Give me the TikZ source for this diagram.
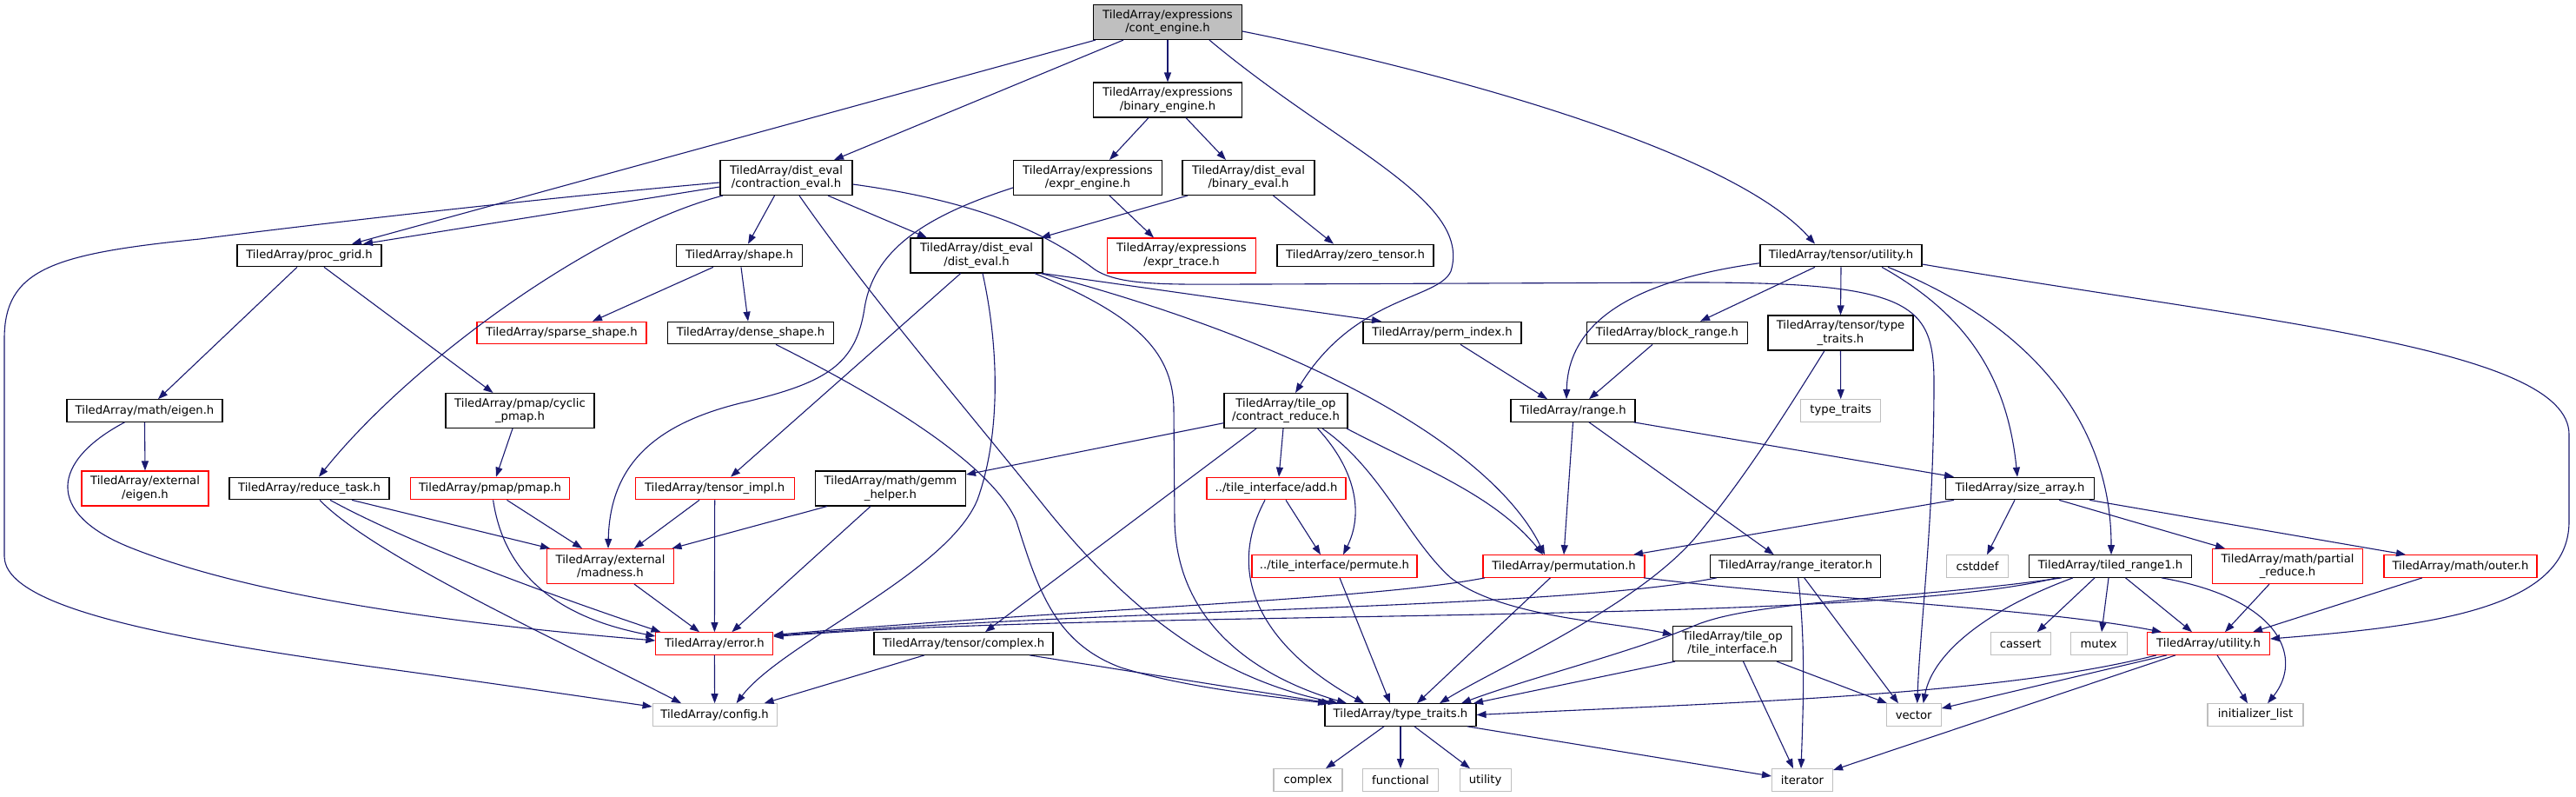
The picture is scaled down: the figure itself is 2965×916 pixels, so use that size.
\documentclass[tikz,border=0pt]{standalone}
\usepackage{fontspec}
\setmainfont{DejaVu Sans}
\usetikzlibrary{arrows.meta}
\definecolor{edgecol}{RGB}{25,25,112}
\definecolor{graybd}{RGB}{191,191,191}
\definecolor{rootfill}{RGB}{191,191,191}
\definecolor{redbd}{RGB}{255,0,0}
\tikzset{
  box/.style={draw=black, fill=white, line width=1.1pt, inner xsep=2pt, inner ysep=0pt,
    align=center, minimum height=25.6pt, font=\fontsize{13.2}{15.5}\selectfont},
  two/.style={minimum height=40pt},
  redbox/.style={draw=redbd},
  graybox/.style={draw=graybd},
  rootbox/.style={fill=rootfill},
  edg/.style={draw=edgecol, line width=1.1pt, -{Triangle[length=11pt,width=8pt]}}
}
\begin{document}
\begin{tikzpicture}[x=1pt,y=-1pt]
\path[use as bounding box, fill=white] (0,0) rectangle (2965,916);

% rank 0-2
\node[box,two,rootbox,minimum width=171pt] (ce) at (1344,25.5) {TiledArray/expressions\\/cont\_engine.h};
\node[box,two,minimum width=171pt] (be) at (1344,115) {TiledArray/expressions\\/binary\_engine.h};
\node[box,two,minimum width=152pt] (ctr) at (905,204.5) {TiledArray/dist\_eval\\/contraction\_eval.h};
\node[box,two,minimum width=171pt] (ee) at (1252,204.5) {TiledArray/expressions\\/expr\_engine.h};
\node[box,two,minimum width=152pt] (bev) at (1437,204.5) {TiledArray/dist\_eval\\/binary\_eval.h};
% rank 3
\node[box,minimum width=166pt] (pg) at (356,294) {TiledArray/proc\_grid.h};
\node[box,minimum width=145pt] (sh) at (851,294) {TiledArray/shape.h};
\node[box,two,minimum width=152pt] (de) at (1124,294) {TiledArray/dist\_eval\\/dist\_eval.h};
\node[box,two,redbox,minimum width=171pt] (et) at (1360,294) {TiledArray/expressions\\/expr\_trace.h};
\node[box,minimum width=180pt] (zt) at (1560,294) {TiledArray/zero\_tensor.h};
\node[box,minimum width=186pt] (tu) at (2119,294) {TiledArray/tensor/utility.h};
% rank 4
\node[box,redbox,minimum width=195pt] (ss) at (646.5,383) {TiledArray/sparse\_shape.h};
\node[box,minimum width=191pt] (ds) at (864,383) {TiledArray/dense\_shape.h};
\node[box,minimum width=182pt] (pi) at (1660,383) {TiledArray/perm\_index.h};
\node[box,minimum width=185pt] (br) at (1919,383) {TiledArray/block\_range.h};
\node[box,two,minimum width=167pt] (ttt) at (2118.5,383) {TiledArray/tensor/type\\\_traits.h};
% rank 5
\node[box,minimum width=179pt] (me) at (166.5,472.5) {TiledArray/math/eigen.h};
\node[box,two,minimum width=171pt] (cp) at (598.5,472.5) {TiledArray/pmap/cyclic\\\_pmap.h};
\node[box,two,minimum width=142pt] (cr) at (1480,472.5) {TiledArray/tile\_op\\/contract\_reduce.h};
\node[box,minimum width=143pt] (rg) at (1810.5,472.5) {TiledArray/range.h};
\node[box,graybox,minimum width=92pt] (stt) at (2118.7,472.5) {type\_traits};
% rank 6
\node[box,two,redbox,minimum width=146pt] (xe) at (167,562) {TiledArray/external\\/eigen.h};
\node[box,minimum width=184pt] (rt) at (356,562) {TiledArray/reduce\_task.h};
\node[box,redbox,minimum width=183pt] (pm) at (564,562) {TiledArray/pmap/pmap.h};
\node[box,redbox,minimum width=183pt] (ti) at (822.7,562) {TiledArray/tensor\_impl.h};
\node[box,two,minimum width=173pt] (gh) at (1025,562) {TiledArray/math/gemm\\\_helper.h};
\node[box,redbox,minimum width=160pt] (add) at (1469,562) {../tile\_interface/add.h};
\node[box,minimum width=171pt] (sa) at (2325,562) {TiledArray/size\_array.h};
% rank 7
\node[box,two,redbox,minimum width=146pt] (mad) at (702.5,651.5) {TiledArray/external\\/madness.h};
\node[box,redbox,minimum width=190pt] (pmu) at (1536,651.5) {../tile\_interface/permute.h};
\node[box,redbox,minimum width=186pt] (perm) at (1800,651.5) {TiledArray/permutation.h};
\node[box,minimum width=196pt] (ri) at (2066.7,651.5) {TiledArray/range\_iterator.h};
\node[box,graybox,minimum width=70.5pt] (cst) at (2276,651.5) {cstddef};
\node[box,minimum width=187pt] (tr1) at (2429,651.5) {TiledArray/tiled\_range1.h};
\node[box,two,redbox,minimum width=173pt] (pr) at (2633,651.5) {TiledArray/math/partial\\\_reduce.h};
\node[box,redbox,minimum width=176pt] (out) at (2832,651.5) {TiledArray/math/outer.h};
% rank 8
\node[box,redbox,minimum width=135pt] (err) at (822.4,740.5) {TiledArray/error.h};
\node[box,minimum width=206pt] (cx) at (1109,740.5) {TiledArray/tensor/complex.h};
\node[box,two,minimum width=137pt] (tif) at (1994,740.5) {TiledArray/tile\_op\\/tile\_interface.h};
\node[box,graybox,minimum width=69pt] (cas) at (2325.7,740.5) {cassert};
\node[box,graybox,minimum width=65pt] (mtx) at (2415.6,740.5) {mutex};
\node[box,redbox,minimum width=141pt] (ut) at (2542,740.5) {TiledArray/utility.h};
% rank 9
\node[box,graybox,minimum width=143pt] (cfg) at (822.6,822.5) {TiledArray/config.h};
\node[box,minimum width=174pt] (tt) at (1612,822.5) {TiledArray/type\_traits.h};
\node[box,graybox,minimum width=63pt] (vec) at (2202.7,822.5) {vector};
\node[box,graybox,minimum width=110pt] (il) at (2596,822.5) {initializer\_list};
% rank 10
\node[box,graybox,minimum width=79pt] (cpx) at (1505.5,897.5) {complex};
\node[box,graybox,minimum width=87pt] (fn) at (1612,897.5) {functional};
\node[box,graybox,minimum width=59pt] (utl) at (1709.6,897.5) {utility};
\node[box,graybox,minimum width=70pt] (it) at (2074.5,897.5) {iterator};

% ---------- edges ----------
% cont_engine
\draw[edg] ([xshift=-83pt]ce.south) -- ([xshift=49pt]pg.north);
\draw[edg] ([xshift=-51pt]ce.south) -- ([xshift=55pt]ctr.north);
\draw[edg] (ce.south) -- (be.north);
\draw[edg] ([xshift=48pt]ce.south) .. controls (1540,170) and (1695,230) .. (1670,312) .. controls (1655,345) and (1560,340) .. ([xshift=11pt]cr.north);
\draw[edg] ([yshift=-10.5pt]ce.east) .. controls (1650,80) and (1990,170) .. ([xshift=-30pt]tu.north);
% binary_engine
\draw[edg] ([xshift=-22pt]be.south) -- ([xshift=25pt]ee.north);
\draw[edg] ([xshift=21pt]be.south) -- ([xshift=-26pt]bev.north);
% expr_engine
\draw[edg] ([xshift=25pt]ee.south) -- ([xshift=-32pt]et.north);
\draw[edg] ([yshift=-11.5pt]ee.west) .. controls (1060,250) and (1005,290) .. (995,355) .. controls (985,420) and (950,440) .. (860,462) .. controls (760,485) and (702,530) .. ([xshift=-2.5pt]mad.north);
% binary_eval
\draw[edg] ([xshift=-70pt]bev.south) -- ([xshift=74pt]de.north);
\draw[edg] ([xshift=28.5pt]bev.south) -- ([xshift=-25pt]zt.north);
% contraction_eval
\draw[edg] ([yshift=-10.5pt]ctr.west) -- ([xshift=62pt]pg.north);
\draw[edg] ([yshift=-5.5pt]ctr.west) .. controls (600,230) and (330,262) .. (230,275) .. controls (60,292) and (5,310) .. (5,390) -- (5,640) .. controls (5,700) and (200,735) .. (420,766) .. controls (560,785) and (680,803) .. ([yshift=9.5pt]cfg.west);
\draw[edg] ([xshift=-73pt]ctr.south) .. controls (680,265) and (470,420) .. ([xshift=11pt]rt.north);
\draw[edg] ([xshift=-13.5pt]ctr.south) -- ([xshift=10pt]sh.north);
\draw[edg] ([xshift=15pt]ctr.south) .. controls (1000,340) and (1120,480) .. (1200,580) .. controls (1300,705) and (1400,780) .. ([xshift=-72pt]tt.north);
\draw[edg] ([xshift=48pt]ctr.south) -- ([xshift=-57pt]de.north);
\draw[edg] ([yshift=-7.5pt]ctr.east) .. controls (1150,235) and (1220,280) .. (1260,310) .. controls (1290,330) and (1350,327) .. (1450,327) -- (1950,325) .. controls (2200,325) and (2226,350) .. (2226,440) .. controls (2226,600) and (2210,720) .. ([xshift=4pt]vec.north);
% dist_eval
\draw[edg] ([xshift=76pt]de.south) -- ([xshift=-70pt]pi.north);
\draw[edg] ([xshift=74pt]de.south) .. controls (1520,400) and (1720,520) .. ([xshift=-22pt]perm.north);
\draw[edg] ([xshift=67pt]de.south) .. controls (1300,360) and (1350,400) .. (1351,470) -- (1352,600) .. controls (1355,720) and (1450,780) .. ([xshift=-62pt]tt.north);
\draw[edg] ([xshift=7pt]de.south) .. controls (1150,400) and (1152,500) .. (1125,575) .. controls (1090,660) and (900,740) .. ([xshift=25pt]cfg.north);
\draw[edg] ([xshift=-18.3pt]de.south) -- ([xshift=18.3pt]ti.north);
% proc_grid, shape
\draw[edg] ([xshift=-14pt]pg.south) -- ([xshift=15.5pt]me.north);
\draw[edg] ([xshift=17pt]pg.south) -- ([xshift=-31pt]cp.north);
\draw[edg] ([xshift=-30pt]sh.south) -- ([xshift=35.5pt]ss.north);
\draw[edg] ([xshift=2pt]sh.south) -- ([xshift=-3pt]ds.north);
\draw[edg] ([xshift=29pt]ds.south) .. controls (1000,450) and (1140,530) .. (1170,600) .. controls (1195,680) and (1215,740) .. (1290,768) .. controls (1360,790) and (1450,800) .. ([xshift=-84pt]tt.north);
% perm_index, block_range, tensor/utility
\draw[edg] ([xshift=21pt]pi.south) -- ([xshift=-29.5pt]rg.north);
\draw[edg] ([xshift=-17pt]br.south) -- ([xshift=18.5pt]rg.north);
\draw[edg] ([yshift=-8.7pt]tu.west) .. controls (1900,320) and (1805,360) .. ([xshift=-7.5pt]rg.north);
\draw[edg] ([xshift=-30pt]tu.south) -- ([xshift=38pt]br.north);
\draw[edg] (tu.south) -- (ttt.north);
\draw[edg] ([xshift=47pt]tu.south) .. controls (2260,360) and (2310,430) .. ([xshift=-3pt]sa.north);
\draw[edg] ([xshift=54pt]tu.south) .. controls (2330,370) and (2430,480) .. ([xshift=1pt]tr1.north);
\draw[edg] ([yshift=-10pt]tu.east) .. controls (2600,370) and (2957,400) .. (2957,500) -- (2957,600) .. controls (2957,700) and (2800,720) .. ([yshift=5.5pt]ut.east);
% tensor/type_traits
\draw[edg] (ttt.south) -- (stt.north);
\draw[edg] ([xshift=-18.5pt]ttt.south) .. controls (2040,500) and (2000,560) .. (1950,620) .. controls (1880,700) and (1720,770) .. ([xshift=45pt]tt.north);
% math/eigen, cyclic_pmap
\draw[edg] (me.south) -- (xe.north);
\draw[edg] ([xshift=-23pt]me.south) .. controls (60,530) and (50,590) .. (150,630) .. controls (300,690) and (550,720) .. ([yshift=3.5pt]err.west);
\draw[edg] ([xshift=-8.5pt]cp.south) -- ([xshift=7pt]pm.north);
% reduce_task
\draw[edg] ([xshift=49pt]rt.south) -- ([xshift=-69.5pt]mad.north);
\draw[edg] ([xshift=24pt]rt.south) .. controls (480,630) and (650,690) .. ([xshift=-62pt]err.north);
\draw[edg] ([xshift=12pt]rt.south) .. controls (430,640) and (650,740) .. ([xshift=-38.5pt]cfg.north);
% pmap
\draw[edg] ([xshift=19.5pt]pm.south) -- ([xshift=-32.5pt]mad.north);
\draw[edg] ([xshift=3.6pt]pm.south) .. controls (580,660) and (640,710) .. ([yshift=8.5pt]err.west);
% tensor_impl
\draw[edg] ([xshift=-17.7pt]ti.south) -- ([xshift=27.5pt]mad.north);
\draw[edg] (ti.south) -- (err.north);
% gemm_helper
\draw[edg] ([xshift=-73pt]gh.south) -- ([xshift=71pt]mad.north);
\draw[edg] ([xshift=-23pt]gh.south) -- ([xshift=20pt]err.north);
% madness, error, complex
\draw[edg] ([xshift=27.5pt]mad.south) -- ([xshift=-17.4pt]err.north);
\draw[edg] (err.south) -- (cfg.north);
\draw[edg] ([xshift=-45pt]cx.south) -- ([xshift=57pt]cfg.north);
\draw[edg] ([xshift=76pt]cx.south) -- ([xshift=-80pt]tt.north);
% contract_reduce
\draw[edg] ([yshift=-14.2pt]cr.west) -- ([yshift=16pt]gh.east);
\draw[edg] ([xshift=-34pt]cr.south) -- ([xshift=25pt]cx.north);
\draw[edg] ([xshift=-3pt]cr.south) -- ([xshift=3pt]add.north);
\draw[edg] ([xshift=36.6pt]cr.south) .. controls (1560,540) and (1570,590) .. ([xshift=10pt]pmu.north);
\draw[edg] ([xshift=70pt]cr.south) .. controls (1640,540) and (1720,570) .. ([xshift=-24pt]perm.north);
\draw[edg] ([xshift=42pt]cr.south) .. controls (1590,540) and (1620,620) .. (1670,665) .. controls (1730,710) and (1850,715) .. ([yshift=10.5pt]tif.west);
% add, permute
\draw[edg] ([xshift=11pt]add.south) -- ([xshift=-16pt]pmu.north);
\draw[edg] ([xshift=-13pt]add.south) .. controls (1400,680) and (1480,760) .. ([xshift=-42pt]tt.north);
\draw[edg] ([xshift=6pt]pmu.south) -- ([xshift=-12pt]tt.north);
% permutation
\draw[edg] ([xshift=-91pt]perm.south) .. controls (1580,690) and (1250,700) .. ([yshift=10pt]err.east);
\draw[edg] ([xshift=-15.6pt]perm.south) -- ([xshift=19pt]tt.north);
\draw[edg] ([xshift=92pt]perm.south) .. controls (2100,690) and (2350,700) .. ([xshift=-54pt]ut.north);
% range
\draw[edg] (rg.south) -- (perm.north);
\draw[edg] ([xshift=18.5pt]rg.south) -- ([xshift=-25pt]ri.north);
\draw[edg] ([xshift=70pt]rg.south) -- ([xshift=-76pt]sa.north);
% size_array
\draw[edg] ([xshift=-76pt]sa.south) -- ([xshift=80pt]perm.north);
\draw[edg] ([xshift=-6pt]sa.south) -- ([xshift=11pt]cst.north);
\draw[edg] ([xshift=45pt]sa.south) -- ([xshift=-72pt]pr.north);
\draw[edg] ([xshift=80pt]sa.south) -- ([xshift=-63pt]out.north);
% range_iterator
\draw[edg] ([xshift=-91pt]ri.south) .. controls (1800,700) and (1300,700) .. ([yshift=9pt]err.east);
\draw[edg] ([xshift=3pt]ri.south) .. controls (2078,740) and (2076,800) .. ([xshift=-1.5pt]it.north);
\draw[edg] ([xshift=10pt]ri.south) -- ([xshift=-17.7pt]vec.north);
% tiled_range1
\draw[edg] ([xshift=-62pt]tr1.south) .. controls (2150,720) and (1300,700) .. ([yshift=8pt]err.east);
\draw[edg] ([xshift=-56pt]tr1.south) .. controls (2200,690) and (2020,690) .. (1950,720) .. controls (1880,750) and (1760,780) .. ([xshift=70pt]tt.north);
\draw[edg] ([xshift=-43pt]tr1.south) .. controls (2290,700) and (2225,750) .. ([xshift=11pt]vec.north);
\draw[edg] ([xshift=-18pt]tr1.south) -- ([xshift=19pt]cas.north);
\draw[edg] ([xshift=-2pt]tr1.south) -- ([xshift=3.4pt]mtx.north);
\draw[edg] ([xshift=17.5pt]tr1.south) -- ([xshift=-19pt]ut.north);
\draw[edg] ([xshift=59pt]tr1.south) .. controls (2630,690) and (2650,760) .. ([xshift=14pt]il.north);
% partial_reduce, outer
\draw[edg] ([xshift=-21pt]pr.south) -- ([xshift=19pt]ut.north);
\draw[edg] ([xshift=-44pt]out.south) -- ([xshift=51pt]ut.north);
% utility.h
\draw[edg] ([xshift=-60pt]ut.south) .. controls (2300,800) and (2000,808) .. (tt.east);
\draw[edg] ([xshift=-48pt]ut.south) -- ([yshift=7.5pt]vec.east);
\draw[edg] ([xshift=-38pt]ut.south) -- ([yshift=11.5pt]it.east);
\draw[edg] ([xshift=10pt]ut.south) -- ([xshift=-9pt]il.north);
% tile_interface
\draw[edg] ([xshift=-66pt]tif.south) -- ([xshift=84pt]tt.north);
\draw[edg] ([xshift=51pt]tif.south) -- ([xshift=-30.7pt]vec.north);
\draw[edg] ([xshift=12.5pt]tif.south) -- ([xshift=-10.5pt]it.north);
% type_traits.h
\draw[edg] ([xshift=-19pt]tt.south) -- ([xshift=20.5pt]cpx.north);
\draw[edg] (tt.south) -- (fn.north);
\draw[edg] ([xshift=16pt]tt.south) -- ([xshift=-17.6pt]utl.north);
\draw[edg] ([xshift=77pt]tt.south) -- ([yshift=4.5pt]it.west);
\end{tikzpicture}
\end{document}
